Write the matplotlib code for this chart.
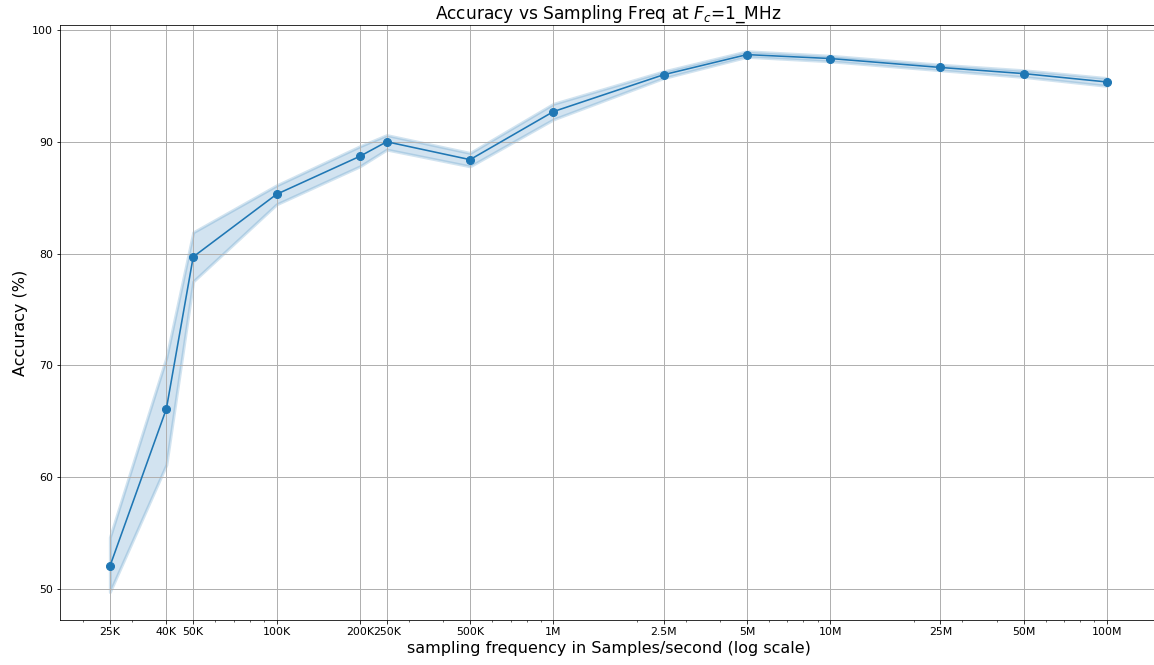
import matplotlib.pyplot as plt
import numpy as np

# sampling frequencies (samples/s) and tick labels
freqs = [25e3, 40e3, 50e3, 100e3, 200e3, 250e3, 500e3, 1e6, 2.5e6, 5e6, 10e6, 25e6, 50e6, 100e6]
labels = ['25K', '40K', '50K', '100K', '200K', '250K', '500K', '1M', '2.5M', '5M', '10M', '25M', '50M', '100M']

# mean accuracy and confidence band (%)
acc_mean = [52.0, 66.1, 79.7, 85.3, 88.7, 90.0, 88.4, 92.7, 96.0, 97.8, 97.45, 96.65, 96.1, 95.35]
acc_low = [49.7, 61.1, 77.5, 84.4, 87.8, 89.3, 87.8, 92.0, 95.7, 97.6, 97.2, 96.4, 95.8, 95.0]
acc_high = [54.6, 70.7, 81.9, 86.1, 89.6, 90.6, 89.0, 93.4, 96.3, 98.1, 97.7, 96.9, 96.4, 95.7]

fig = plt.figure(figsize=(1154 / 72, 665 / 72), dpi=72)
ax = fig.add_axes([60 / 1154, 45 / 665, 1097 / 1154, 595 / 665])

color = '#1f77b4'
ax.fill_between(freqs, acc_low, acc_high, color=color, alpha=0.2, linewidth=3)
ax.plot(freqs, acc_mean, color=color, linewidth=1.6, marker='o', markersize=8)

ax.set_xscale('log')
ax.set_xticks(freqs)
ax.set_xticklabels(labels, fontsize=11)
ax.tick_params(axis='y', labelsize=11)
ax.set_yticks([50, 60, 70, 80, 90, 100])
ax.set_ylim(47.2, 100.45)
ax.grid(True, which='major', color='#b0b0b0', linewidth=1)
ax.spines['right'].set_visible(False)  # reference is cropped at the right edge

ax.set_xlabel('sampling frequency in Samples/second (log scale)', fontsize=16)
ax.set_ylabel('Accuracy (%)', fontsize=16)
ax.set_title('Accuracy vs Sampling Freq at $F_c$=1_MHz', fontsize=17)

fig.savefig('out.png', dpi=72)
